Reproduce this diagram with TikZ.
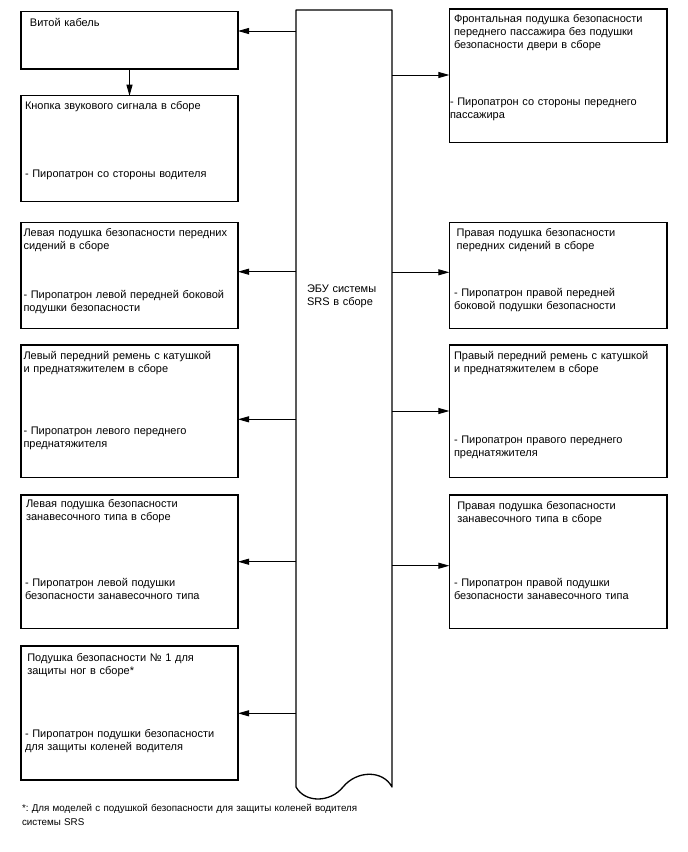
\documentclass[tikz,border=0pt]{standalone}
\usepackage{fontspec}
\setmainfont{Liberation Sans}
\frenchspacing
\usetikzlibrary{arrows.meta}
\tikzset{
  box/.style={draw, line width=1.5pt, rectangle, inner sep=0pt, outer sep=0pt, minimum width=217pt},
  rbox/.style={box, minimum width=217.7pt},
  txt/.style={anchor=base west, inner sep=0pt, outer sep=0pt, text width=235pt, align=left, font=\fontsize{11}{13}\selectfont},
  fntxt/.style={txt, text width=400pt, font=\fontsize{9.8}{14}\selectfont},
  arr/.style={line width=0.9pt, -{Triangle[length=11pt,width=6pt]}},
  colline/.style={line width=1.3pt, line join=round}
}
\begin{document}
\begin{tikzpicture}[x=1pt,y=-1pt]
\useasboundingbox (0,0) rectangle (688,852);
% central ECU column
\node[inner sep=0pt, outer sep=0pt, minimum width=96pt, minimum height=777pt] (ecu) at (344,398.5) {};
\draw[colline] (ecu.south west) -- (ecu.north west) -- (ecu.north east) -- (ecu.south east)
  .. controls (383,770) and (357,770) .. (343,787)
  .. controls (330,803) and (305,803) .. (ecu.south west);
\node[txt] (ecut) at (307,292.5) {ЭБУ системы\\SRS в сборе};

% left boxes
\node[box, minimum height=57.3pt] (b1) at (129.5,40.35) {};
\node[box, minimum height=106pt] (b2) at (129.5,148.7) {};
\node[box, minimum height=106pt] (b3) at (129.5,275.3) {};
\node[box, minimum height=132.3pt] (b4) at (129.5,411.15) {};
\node[box, minimum height=133.3pt] (b5) at (129.5,561.65) {};
\node[box, minimum height=134pt] (b6) at (129.5,713) {};
% right boxes
\node[rbox, minimum height=133.7pt] (r1) at (558.2,75.85) {};
\node[rbox, minimum height=106pt] (r2) at (558.2,275.3) {};
\node[rbox, minimum height=132.3pt] (r3) at (558.2,411.15) {};
\node[rbox, minimum height=133.3pt] (r4) at (558.2,561.65) {};

% texts left
\node[txt] (b1t) at (30,26.5) {Витой кабель};
\node[txt] (b2t) at (25,109.5) {Кнопка звукового сигнала в сборе};
\node[txt] (b2p) at (25,177) {- Пиропатрон со стороны водителя};
\node[txt] (b3t) at (23.5,236.3) {Левая подушка безопасности передних\\сидений в сборе};
\node[txt] (b3p) at (23.5,298.5) {- Пиропатрон левой передней боковой\\подушки безопасности};
\node[txt] (b4t) at (23.5,359.3) {Левый передний ремень с катушкой\\и преднатяжителем в сборе};
\node[txt] (b4p) at (23.5,434.5) {- Пиропатрон левого переднего\\преднатяжителя};
\node[txt] (b5t) at (26,507) {Левая подушка безопасности\\занавесочного типа в сборе};
\node[txt] (b5p) at (25,586.3) {- Пиропатрон левой подушки\\безопасности занавесочного типа};
\node[txt] (b6t) at (27.3,661) {Подушка безопасности № 1 для\\защиты ног в сборе*};
\node[txt] (b6p) at (25,737.5) {- Пиропатрон подушки безопасности\\для защиты коленей водителя};
% texts right
\node[txt] (r1t) at (454,22) {Фронтальная подушка безопасности\\переднего пассажира без подушки\\безопасности двери в сборе};
\node[txt] (r1p) at (450,105.3) {- Пиропатрон со стороны переднего\\пассажира};
\node[txt] (r2t) at (456.7,236) {Правая подушка безопасности\\передних сидений в сборе};
\node[txt] (r2p) at (454,296.3) {- Пиропатрон правой передней\\боковой подушки безопасности};
\node[txt] (r3t) at (454,359.3) {Правый передний ремень с катушкой\\и преднатяжителем в сборе};
\node[txt] (r3p) at (454,443.5) {- Пиропатрон правого переднего\\преднатяжителя};
\node[txt] (r4t) at (457.3,509.3) {Правая подушка безопасности\\занавесочного типа в сборе};
\node[txt] (r4p) at (454,586.3) {- Пиропатрон правой подушки\\безопасности занавесочного типа};

% footnote
\node[fntxt] (fn) at (22,811.5) {*: Для моделей с подушкой безопасности для защиты коленей водителя\\системы SRS};

% connectors
\draw[arr] (b1.south) -- (b2.north);
\draw[arr] (ecu.west |- 0,31) -- (b1.east |- 0,31);
\draw[arr] (ecu.west |- 0,271.7) -- (b3.east |- 0,271.7);
\draw[arr] (ecu.west |- 0,419.3) -- (b4.east |- 0,419.3);
\draw[arr] (ecu.west |- 0,561.7) -- (b5.east |- 0,561.7);
\draw[arr] (ecu.west |- 0,713.3) -- (b6.east |- 0,713.3);
\draw[arr] (ecu.east |- 0,75) -- (r1.west |- 0,75);
\draw[arr] (ecu.east |- 0,272.3) -- (r2.west |- 0,272.3);
\draw[arr] (ecu.east |- 0,411) -- (r3.west |- 0,411);
\draw[arr] (ecu.east |- 0,565.7) -- (r4.west |- 0,565.7);
\end{tikzpicture}
\end{document}
